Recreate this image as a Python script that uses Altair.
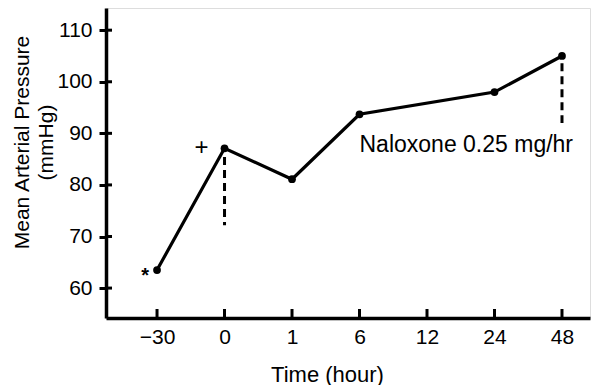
import json
import altair as alt
import pandas as pd

# ---- data ----
time_labels = ["−30", "0", "1", "6", "12", "24", "48"]
obs_time = ["−30", "0", "1", "6", "24", "48"]
map_values = [63.5, 87.1, 81.1, 93.7, 98.0, 105.0]

y_ticks = [60, 70, 80, 90, 100, 110]

dash_time = ["0", "48"]
dash_top = [85.4, 103.6]
dash_bottom = [72.2, 92.0]

ann_text = ["+", "*", "Naloxone 0.25 mg/hr"]
ann_time = ["0", "−30", "6"]
ann_value = [87.1, 63.5, 86.4]

FONT = "Liberation Sans"
W, H = 484, 310

idx = {t: i for i, t in enumerate(time_labels)}
obs = pd.DataFrame({"pos": [idx[t] for t in obs_time], "map": map_values})
ticks_df = pd.DataFrame({"pos": [idx[t] for t in time_labels]})
ytick_df = pd.DataFrame({"v": y_ticks})
dash = pd.DataFrame({"pos": [idx[t] for t in dash_time], "top": dash_top, "bot": dash_bottom})
ann = pd.DataFrame({"pos": [idx[t] for t in ann_time], "v": ann_value, "txt": ann_text})

label_expr = json.dumps(time_labels) + "[round(datum.value)]"

xscale = alt.Scale(domain=[-0.756, 6.415], nice=False, zero=False)
yscale = alt.Scale(domain=[54.2, 114.3], nice=False, zero=False)

x_axis = alt.Axis(
    values=list(range(len(time_labels))), labelExpr=label_expr, ticks=False,
    domainWidth=3.5, domainColor="black", labelFontSize=21, labelPadding=8,
    labelColor="black", labelFont=FONT, grid=False,
    title="Time (hour)", titleFont=FONT, titleFontSize=22, titleFontWeight="normal",
    titleColor="black", titleX=221, titlePadding=17,
)
y_axis = alt.Axis(
    values=y_ticks, tickSize=7, tickWidth=3, tickColor="black",
    domainWidth=3.5, domainColor="black", labelFontSize=21, labelPadding=7,
    labelColor="black", labelFont=FONT, grid=False,
    title=["Mean Arterial Pressure", "(mmHg)"], titleFont=FONT, titleFontSize=21,
    titleFontWeight="normal", titleColor="black", titleLineHeight=24,
    titleY=134, titlePadding=0,
)

X = alt.X("pos:Q", scale=xscale, axis=x_axis)
Y = alt.Y("map:Q", scale=yscale, axis=y_axis)

line = alt.Chart(obs).mark_line(color="black", strokeWidth=3.2).encode(x=X, y=Y)
pts = alt.Chart(obs).mark_circle(color="black", size=60, opacity=1).encode(x="pos:Q", y="map:Q")

dashes = alt.Chart(dash).mark_rule(color="black", strokeWidth=3, strokeDash=[8, 5]).encode(
    x="pos:Q", y="top:Q", y2="bot:Q")

xticks = alt.Chart(ticks_df).mark_rule(color="black", strokeWidth=3).encode(
    x="pos:Q", y=alt.value(H - 9), y2=alt.value(H))
yticks_in = alt.Chart(ytick_df).mark_rule(color="black", strokeWidth=3).encode(
    y="v:Q", x=alt.value(0), x2=alt.value(6))

plus = alt.Chart(ann.iloc[[0]]).mark_text(font=FONT, fontSize=24, color="black", dx=-23, dy=0,
                                          baseline="middle").encode(x="pos:Q", y="v:Q", text="txt:N")
star = alt.Chart(ann.iloc[[1]]).mark_text(font=FONT, fontSize=20, fontWeight="bold", color="black",
                                          dx=-12, dy=6, baseline="middle").encode(
    x="pos:Q", y="v:Q", text="txt:N")
nal = alt.Chart(ann.iloc[[2]]).mark_text(font=FONT, fontSize=23, color="black", align="left",
                                         baseline="alphabetic").encode(x="pos:Q", y="v:Q", text="txt:N")

chart = alt.layer(line, dashes, pts, xticks, yticks_in, plus, star, nal).properties(
    width=W, height=H,
    autosize=alt.AutoSizeParams(type="none"),
    padding={"left": 98, "top": 0, "right": 5, "bottom": 67},
).configure_view(stroke=None).configure(background="white")

chart.save("out.html", embed_options={"renderer": "svg", "actions": False})
